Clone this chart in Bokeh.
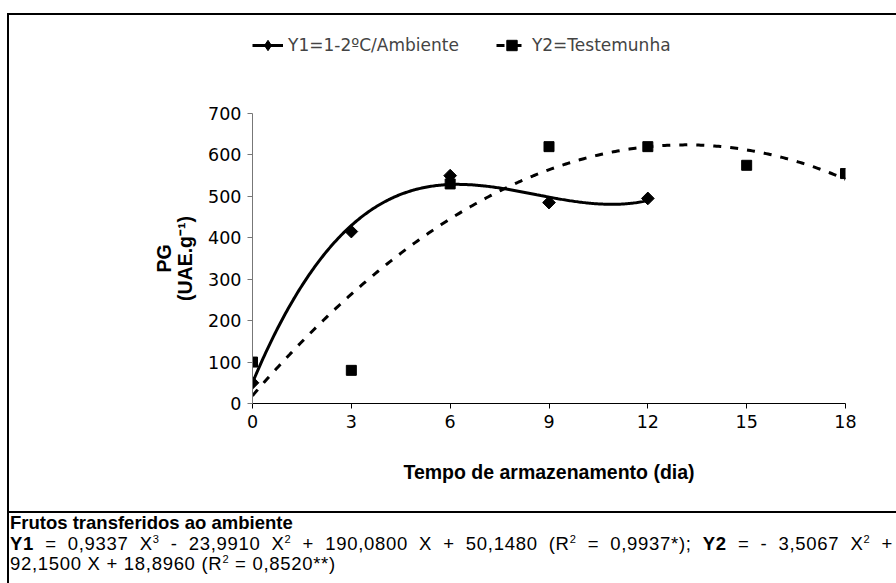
import numpy as np
from bokeh.plotting import figure
from bokeh.models import Range1d, FixedTicker, Legend, LegendItem, Div
from bokeh.layouts import column
from bokeh.embed import file_html
from bokeh.resources import INLINE

# Storage time (days) and PG activity (UAE.g-1)
y1_days = [0, 3, 6, 9, 12]
y1_pg = [50, 415, 550, 485, 495]
y2_days = [0, 3, 6, 9, 12, 15, 18]
y2_pg = [100, 80, 530, 620, 620, 575, 555]

# Fitted trend coefficients (highest power first), as printed under the chart
y1_coef = [0.9337, -23.9910, 190.0800, 50.1480]
y2_coef = [-3.5067, 92.1500, 18.8960]

x_ticks = [0, 3, 6, 9, 12, 15, 18]
y_ticks = [0, 100, 200, 300, 400, 500, 600, 700]

legend_labels = ["Y1=1-2ºC/Ambiente", "Y2=Testemunha"]
x_title = "Tempo de armazenamento (dia)"
y_title = "PG\n(UAE.g⁻¹)"

FONT = "Liberation Sans"
NUM_FONT = "DejaVu Sans"

Y1_STYLE = dict(line_color="black", line_width=3)
Y2_STYLE = dict(line_color="black", line_width=3, line_dash="8 9")
Y1_MARK = dict(marker="square", angle=np.pi / 4, size=9,
               fill_color="black", line_color="black")
Y2_MARK = dict(marker="square", size=10, fill_color="black", line_color="black")

x1 = np.linspace(0, max(y1_days), 300)
x2 = np.linspace(0, max(y2_days), 300)
fit1 = np.polyval(y1_coef, x1)
fit2 = np.polyval(y2_coef, x2)

# ---- main chart -------------------------------------------------------
p = figure(width=887, height=436,
           x_range=Range1d(0, 18), y_range=Range1d(0, max(y_ticks)),
           output_backend="svg", toolbar_location=None,
           min_border_left=243, min_border_right=51,
           min_border_top=38, min_border_bottom=108)
p.outline_line_color = None
p.xgrid.visible = False
p.ygrid.visible = False
p.background_fill_color = "white"
p.border_fill_color = "white"

# trend curves
p.line(x1, fit1, **Y1_STYLE)
p.line(x2, fit2, **Y2_STYLE)

# observed points
p.scatter(y1_days, y1_pg, **Y1_MARK)
p.scatter(y2_days, y2_pg, **Y2_MARK)

for ax in (p.xaxis[0], p.yaxis[0]):
    ax.major_tick_in = 0
    ax.major_tick_out = 5
    ax.minor_tick_line_color = None
    ax.major_label_text_font = NUM_FONT
    ax.major_label_text_font_size = "17.5px"
    ax.major_label_text_color = "black"
    ax.axis_label_text_font = FONT
    ax.axis_label_text_font_style = "bold"
    ax.axis_label_text_font_size = "19.5px"
    ax.axis_label_text_color = "black"
    ax.axis_line_width = 1

p.xaxis.ticker = FixedTicker(ticks=x_ticks)
p.yaxis.ticker = FixedTicker(ticks=y_ticks)
p.xaxis.axis_line_color = "black"
p.xaxis.major_tick_line_color = "black"
p.yaxis.axis_line_color = "#777777"
p.yaxis.major_tick_line_color = "#777777"
p.xaxis.axis_label = x_title
p.yaxis.axis_label = y_title
p.yaxis.axis_label_text_line_height = 0.95
p.xaxis.axis_label_standoff = 30
p.yaxis.axis_label_standoff = 9
p.xaxis.major_label_standoff = 6
p.yaxis.major_label_standoff = 6

# ---- legend strip above the chart --------------------------------------
# The strip carries hidden copies of the series only so that the legend
# can draw their line and marker samples (legend markers are never rotated,
# so the Y1 sample uses a diamond marker).
leg = figure(width=887, height=60, x_range=Range1d(0, 18), y_range=Range1d(0, 1),
             output_backend="svg", toolbar_location=None,
             x_axis_location=None, y_axis_location=None,
             min_border=0)
leg.outline_line_color = None
leg.xgrid.visible = False
leg.ygrid.visible = False
leg.border_fill_color = "white"
r1 = leg.line(x1, fit1, visible=False, **Y1_STYLE)
k1 = leg.scatter(y1_days, y1_pg, visible=False, marker="diamond",
                 fill_color="black", line_color="black")
r2 = leg.line(x2, fit2, visible=False, **Y2_STYLE)
k2 = leg.scatter(y2_days, y2_pg, visible=False, **Y2_MARK)
legend = Legend(items=[LegendItem(label=legend_labels[0], renderers=[r1, k1]),
                       LegendItem(label=legend_labels[1], renderers=[r2, k2])],
                orientation="horizontal", location=(0, 17),
                padding=0, margin=0, spacing=37, glyph_width=31,
                glyph_height=26, label_standoff=5,
                label_text_font=NUM_FONT, label_text_font_size="17px",
                border_line_color=None, background_fill_alpha=0)
leg.add_layout(legend)

# ---- fitted equations below the chart ----------------------------------
sup = '<sup style="font-size:0.6em;line-height:0">{}</sup>'
note = Div(text=(
    '<div style="font-family:\'Liberation Sans\',Arial,sans-serif;'
    'font-size:18.5px;line-height:20.5px;color:#000;'
    'border-top:2px solid #000;padding:0 0 0 1px;'
    'width:887px;height:72px;box-sizing:border-box;overflow:hidden;">'
    '<div style="font-weight:bold;">Frutos transferidos ao ambiente</div>'
    '<div style="width:883px;letter-spacing:0.7px;text-align:justify;'
    'text-align-last:justify;">'
    '<b>Y1</b> = 0,9337 X' + sup.format(3) +
    ' - 23,9910 X' + sup.format(2) +
    ' + 190,0800 X + 50,1480 (R' + sup.format(2) +
    ' = 0,9937*); <b>Y2</b> = - 3,5067 X' + sup.format(2) + ' +</div>'
    '<div style="letter-spacing:0.7px;">92,1500 X + 18,8960 (R' + sup.format(2) +
    ' = 0,8520**)</div>'
    '</div>'), width=887, height=72, margin=(0, 0, 0, 0))

layout = column(leg, p, note, spacing=0, margin=(13, 0, 0, 7),
                styles={"border-top": "2px solid #000",
                        "border-left": "2px solid #000"})
open("out.html", "w").write(file_html(layout, INLINE))
